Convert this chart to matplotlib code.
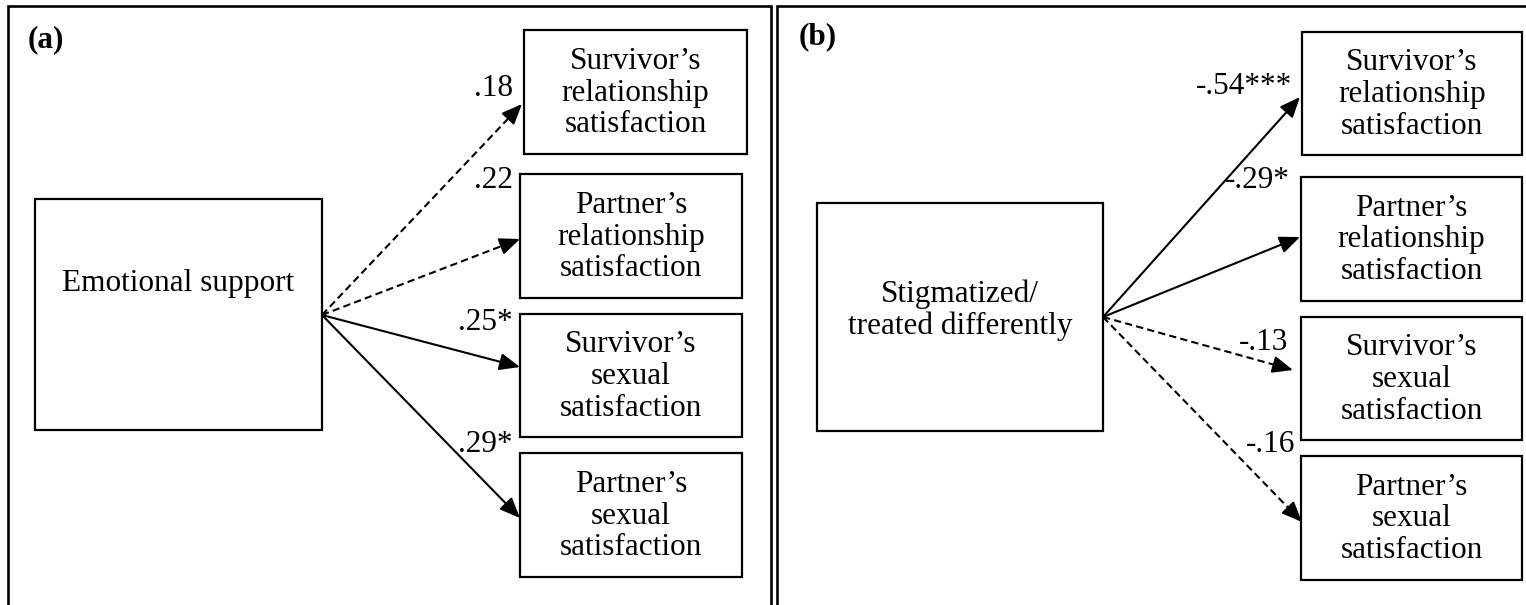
import matplotlib
matplotlib.use("Agg")
import matplotlib.pyplot as plt
import numpy as np
from matplotlib.patches import Rectangle, FancyArrowPatch

plt.rcParams['font.family'] = ['Liberation Serif', 'DejaVu Serif']

# ---------------- data ----------------
panel_labels = ["(a)", "(b)"]
predictors = ["Emotional support", "Stigmatized/\ntreated differently"]
outcomes = ["Survivor\u2019s\nrelationship\nsatisfaction",
            "Partner\u2019s\nrelationship\nsatisfaction",
            "Survivor\u2019s\nsexual\nsatisfaction",
            "Partner\u2019s\nsexual\nsatisfaction"]
coef_a = [".18", ".22", ".25*", ".29*"]
coef_b = ["-.54***", "-.29*", "-.13", "-.16"]
signif_a = [False, False, True, True]
signif_b = [True, True, False, False]

# ---------------- layout (pixel coordinates) ----------------
W, H = 1526, 605
fig = plt.figure(figsize=(W / 100, H / 100), dpi=100)
ax = fig.add_axes([0, 0, 1, 1])
ax.set_xlim(0, W)
ax.set_ylim(H, 0)
ax.axis("off")

FS = 22.5
BOX_LW = 1.6
LSP = 1.12

panels = [
    dict(frame=(8, 771), label_xy=(28, 40),
         src=(35, 199, 322, 430), src_text_y=283,
         targets=[(524, 30, 747, 154), (520, 174, 742, 298),
                  (520, 314, 742, 437), (520, 453, 742, 577)],
         origin=(322, 315),
         tips=[(522, 104), (520, 239), (520, 367), (520, 518)],
         lab_xy=[(513, 88), (513, 180), (513, 323), (513, 445)],
         coefs=coef_a, sig=signif_a),
    dict(frame=(777, 1530), label_xy=(799, 37),
         src=(817, 203, 1103, 431), src_text_y=310,
         targets=[(1302, 32, 1522, 155), (1301, 177, 1522, 301),
                  (1301, 317, 1522, 440), (1301, 456, 1522, 580)],
         origin=(1103, 317),
         tips=[(1300, 97), (1300, 237), (1293, 370), (1302, 522)],
         lab_xy=[(1292, 87), (1290, 180), (1288, 342), (1295, 444)],
         coefs=coef_b, sig=signif_b),
]

for i, p in enumerate(panels):
    x0, x1 = p["frame"]
    ax.plot([x0, x0, x1, x1], [H + 5, 6, 6, H + 5], color="black", lw=1.9,
            solid_joinstyle="miter", clip_on=False)
    ax.text(*p["label_xy"], panel_labels[i], fontsize=FS, fontweight="bold",
            ha="left", va="center")

    sx0, sy0, sx1, sy1 = p["src"]
    ax.add_patch(Rectangle((sx0, sy0), sx1 - sx0, sy1 - sy0, fill=False,
                           ec="black", lw=BOX_LW))
    ax.text((sx0 + sx1) / 2, p["src_text_y"], predictors[i], fontsize=FS,
            ha="center", va="center", linespacing=LSP)

    ox, oy = p["origin"]
    for j, (bx0, by0, bx1, by1) in enumerate(p["targets"]):
        ax.add_patch(Rectangle((bx0, by0), bx1 - bx0, by1 - by0, fill=False,
                               ec="black", lw=BOX_LW))
        ax.text((bx0 + bx1) / 2, (by0 + by1) / 2 + 1, outcomes[j], fontsize=FS,
                ha="center", va="center", linespacing=LSP)
        tx, ty = p["tips"][j]
        d = np.array([tx - ox, ty - oy], float)
        d /= np.hypot(*d)
        hx, hy = tx - 14 * d[0], ty - 14 * d[1]
        if p["sig"][j]:
            ax.plot([ox, hx], [oy, hy], color="black", lw=1.5,
                    solid_capstyle="butt")
        else:
            ax.plot([ox, hx], [oy, hy], color="black", lw=1.5,
                    dashes=(3.5, 2), dash_capstyle="butt")
        head = FancyArrowPatch((tx - 20 * d[0], ty - 20 * d[1]), (tx, ty),
                               arrowstyle="-|>,head_length=0.62,head_width=0.26",
                               mutation_scale=20, lw=1.5, color="black",
                               shrinkA=0, shrinkB=0)
        ax.add_patch(head)
        ax.text(*p["lab_xy"][j], p["coefs"][j], fontsize=FS,
                ha="right", va="center")

fig.savefig("out.png", dpi=100, facecolor="white")
